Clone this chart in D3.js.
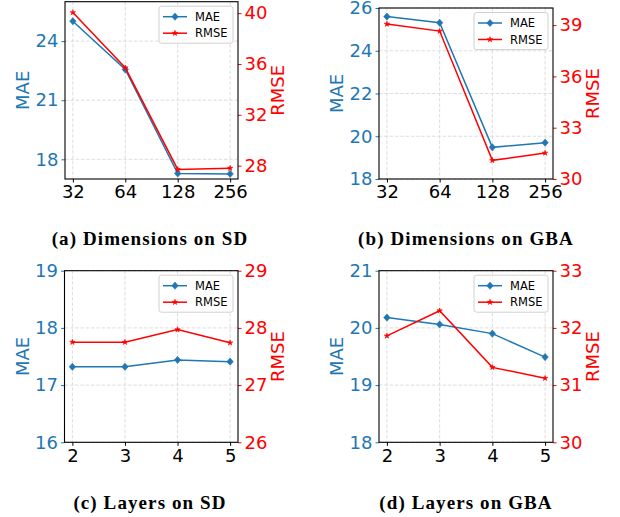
<!DOCTYPE html>
<html>
<head>
<meta charset="utf-8">
<script src="https://cdn.jsdelivr.net/npm/d3@7"></script>
<style>
  body { margin: 0; background: #fff; }
  svg { display: block; }
</style>
</head>
<body>
<div id="chart"></div>
<script>
// ---- data ----
const dimLabels = ["32", "64", "128", "256"];
const layerLabels = ["2", "3", "4", "5"];

const maeDimSD = [25.01, 22.56, 17.28, 17.26];
const rmseDimSD = [40.05, 35.7, 27.7, 27.8];

const maeDimGBA = [25.6, 25.31, 19.48, 19.70];
const rmseDimGBA = [39.06, 38.65, 31.09, 31.52];

const maeLayerSD = [17.32, 17.32, 17.44, 17.41];
const rmseLayerSD = [27.75, 27.75, 27.97, 27.74];

const maeLayerGBA = [20.18, 20.06, 19.90, 19.49];
const rmseLayerGBA = [31.86, 32.30, 31.31, 31.12];

const maeTicksDimSD = [18, 21, 24];
const rmseTicksDimSD = [28, 32, 36, 40];
const maeTicksDimGBA = [18, 20, 22, 24, 26];
const rmseTicksDimGBA = [30, 33, 36, 39];
const maeTicksLayerSD = [16, 17, 18, 19];
const rmseTicksLayerSD = [26, 27, 28, 29];
const maeTicksLayerGBA = [18, 19, 20, 21];
const rmseTicksLayerGBA = [30, 31, 32, 33];

const captions = ["(a) Dimensions on SD", "(b) Dimensions on GBA", "(c) Layers on SD", "(d) Layers on GBA"];

const maeColor = "#1f77b4";
const rmseColor = "#ff0000";

const svg = d3.select("#chart").append("svg")
    .attr("width", 620)
    .attr("height", 517);

svg.append("rect").attr("width", 620).attr("height", 517).attr("fill", "#fff");

// diamond marker (matplotlib "D")
const diamond = "M0,-3.6L3.2,0L0,3.6L-3.2,0Z";
const star = d3.symbol(d3.symbolStar, 9)();

// one panel of the figure
function drawPanel(p) {
    const g = svg.append("g");

    const x = d3.scaleLinear()
        .domain([-0.15, p.labels.length - 1 + 0.15])
        .range([p.left, p.right]);
    const yL = d3.scaleLinear().domain(p.maeDomain).range([p.bottom, p.top]);
    const yR = d3.scaleLinear().domain(p.rmseDomain).range([p.bottom, p.top]);

    // grid
    g.selectAll(".gx").data(p.labels).enter().append("line")
        .attr("x1", (d, i) => x(i)).attr("x2", (d, i) => x(i))
        .attr("y1", p.top).attr("y2", p.bottom)
        .attr("stroke", "#d9d9d9").attr("stroke-width", 0.9)
        .attr("stroke-dasharray", "3.5,1.8");
    g.selectAll(".gy").data(p.maeTicks).enter().append("line")
        .attr("x1", p.left).attr("x2", p.right)
        .attr("y1", d => yL(d)).attr("y2", d => yL(d))
        .attr("stroke", "#d9d9d9").attr("stroke-width", 0.9)
        .attr("stroke-dasharray", "3.5,1.8");

    // axes
    const ax = g.append("g")
        .attr("transform", `translate(0,${p.bottom})`)
        .call(d3.axisBottom(x).tickValues(d3.range(p.labels.length))
            .tickFormat(i => p.labels[i]).tickSize(3.5).tickPadding(3));
    const al = g.append("g")
        .attr("transform", `translate(${p.left},0)`)
        .call(d3.axisLeft(yL).tickValues(p.maeTicks).tickFormat(d3.format("d"))
            .tickSize(3.5).tickPadding(3));
    const ar = g.append("g")
        .attr("transform", `translate(${p.right},0)`)
        .call(d3.axisRight(yR).tickValues(p.rmseTicks).tickFormat(d3.format("d"))
            .tickSize(3.5).tickPadding(3));

    [ax, al, ar].forEach(a => {
        a.select(".domain").remove();
        a.selectAll("text")
            .style("font-family", "'DejaVu Sans', sans-serif")
            .style("font-size", "18px");
    });
    ax.selectAll("line").attr("stroke", "#000");
    ax.selectAll("text").attr("fill", "#000");
    al.selectAll("line").attr("stroke", maeColor);
    al.selectAll("text").attr("fill", maeColor);
    ar.selectAll("line").attr("stroke", rmseColor);
    ar.selectAll("text").attr("fill", rmseColor);

    // lines
    const lineL = d3.line().x((d, i) => x(i)).y(d => yL(d));
    const lineR = d3.line().x((d, i) => x(i)).y(d => yR(d));

    g.append("path").datum(p.mae)
        .attr("d", lineL).attr("fill", "none")
        .attr("stroke", maeColor).attr("stroke-width", 1.5);
    g.selectAll(".mk1").data(p.mae).enter().append("path")
        .attr("d", diamond)
        .attr("transform", (d, i) => `translate(${x(i)},${yL(d)})`)
        .attr("fill", maeColor).attr("stroke", maeColor).attr("stroke-width", 0.6);

    g.append("path").datum(p.rmse)
        .attr("d", lineR).attr("fill", "none")
        .attr("stroke", rmseColor).attr("stroke-width", 1.5);
    g.selectAll(".mk2").data(p.rmse).enter().append("path")
        .attr("d", star)
        .attr("transform", (d, i) => `translate(${x(i)},${yR(d)})`)
        .attr("fill", rmseColor).attr("stroke", rmseColor).attr("stroke-width", 0.6);

    // frame
    g.append("rect")
        .attr("x", p.left).attr("y", p.top)
        .attr("width", p.right - p.left).attr("height", p.bottom - p.top)
        .attr("fill", "none").attr("stroke", "#000").attr("stroke-width", 1.1);

    // legend
    const lw = 74, lh = 37;
    const lx = p.right - 5 - lw, ly = p.top + 4.5;
    const leg = g.append("g").attr("transform", `translate(${lx},${ly})`);
    leg.append("rect")
        .attr("width", lw).attr("height", lh).attr("rx", 2.5)
        .attr("fill", "#fff").attr("fill-opacity", 0.8)
        .attr("stroke", "#cccccc").attr("stroke-width", 0.9);
    const items = [
        { name: "MAE", color: maeColor, sym: diamond },
        { name: "RMSE", color: rmseColor, sym: star }
    ];
    items.forEach((it, k) => {
        const yy = 10.5 + k * 16.5;
        leg.append("line")
            .attr("x1", 4).attr("x2", 28).attr("y1", yy).attr("y2", yy)
            .attr("stroke", it.color).attr("stroke-width", 1.5);
        leg.append("path").attr("d", it.sym)
            .attr("transform", `translate(16,${yy})`)
            .attr("fill", it.color).attr("stroke", it.color).attr("stroke-width", 0.6);
        leg.append("text")
            .attr("x", 36).attr("y", yy + 4)
            .style("font-family", "'DejaVu Sans', sans-serif")
            .style("font-size", "11.5px")
            .attr("fill", "#000")
            .text(it.name);
    });

    // axis titles
    const midY = (p.top + p.bottom) / 2;
    g.append("text")
        .attr("transform", `translate(${p.left - 36},${midY}) rotate(-90)`)
        .attr("text-anchor", "middle")
        .style("font-family", "'DejaVu Sans', sans-serif")
        .style("font-size", "18px")
        .attr("fill", maeColor)
        .text("MAE");
    g.append("text")
        .attr("transform", `translate(${p.right + 46},${midY}) rotate(-90)`)
        .attr("text-anchor", "middle")
        .style("font-family", "'DejaVu Sans', sans-serif")
        .style("font-size", "18px")
        .attr("fill", rmseColor)
        .text("RMSE");

    // caption
    g.append("text")
        .attr("x", p.capX).attr("y", p.capY)
        .attr("text-anchor", "middle")
        .style("font-family", "'Liberation Serif', 'DejaVu Serif', serif")
        .style("font-weight", "bold")
        .style("font-size", "19px")
        .style("letter-spacing", "1.1px")
        .attr("fill", "#000")
        .text(p.caption);
}

drawPanel({
    labels: dimLabels, mae: maeDimSD, rmse: rmseDimSD,
    maeDomain: [17, 26], rmseDomain: [26.95, 40.9],
    maeTicks: maeTicksDimSD, rmseTicks: rmseTicksDimSD,
    left: 65, right: 238, top: 1.7, bottom: 179,
    caption: captions[0], capX: 150, capY: 245
});
drawPanel({
    labels: dimLabels, mae: maeDimGBA, rmse: rmseDimGBA,
    maeDomain: [18, 26], rmseDomain: [30, 40],
    maeTicks: maeTicksDimGBA, rmseTicks: rmseTicksDimGBA,
    left: 379, right: 553, top: 8, bottom: 179,
    caption: captions[1], capX: 466, capY: 245
});
drawPanel({
    labels: layerLabels, mae: maeLayerSD, rmse: rmseLayerSD,
    maeDomain: [16, 19], rmseDomain: [26, 29],
    maeTicks: maeTicksLayerSD, rmseTicks: rmseTicksLayerSD,
    left: 64.5, right: 238, top: 270.7, bottom: 442.3,
    caption: captions[2], capX: 150, capY: 509
});
drawPanel({
    labels: layerLabels, mae: maeLayerGBA, rmse: rmseLayerGBA,
    maeDomain: [18, 21], rmseDomain: [30, 33],
    maeTicks: maeTicksLayerGBA, rmseTicks: rmseTicksLayerGBA,
    left: 379, right: 553, top: 270.7, bottom: 442.3,
    caption: captions[3], capX: 466, capY: 509
});
</script>
</body>
</html>
